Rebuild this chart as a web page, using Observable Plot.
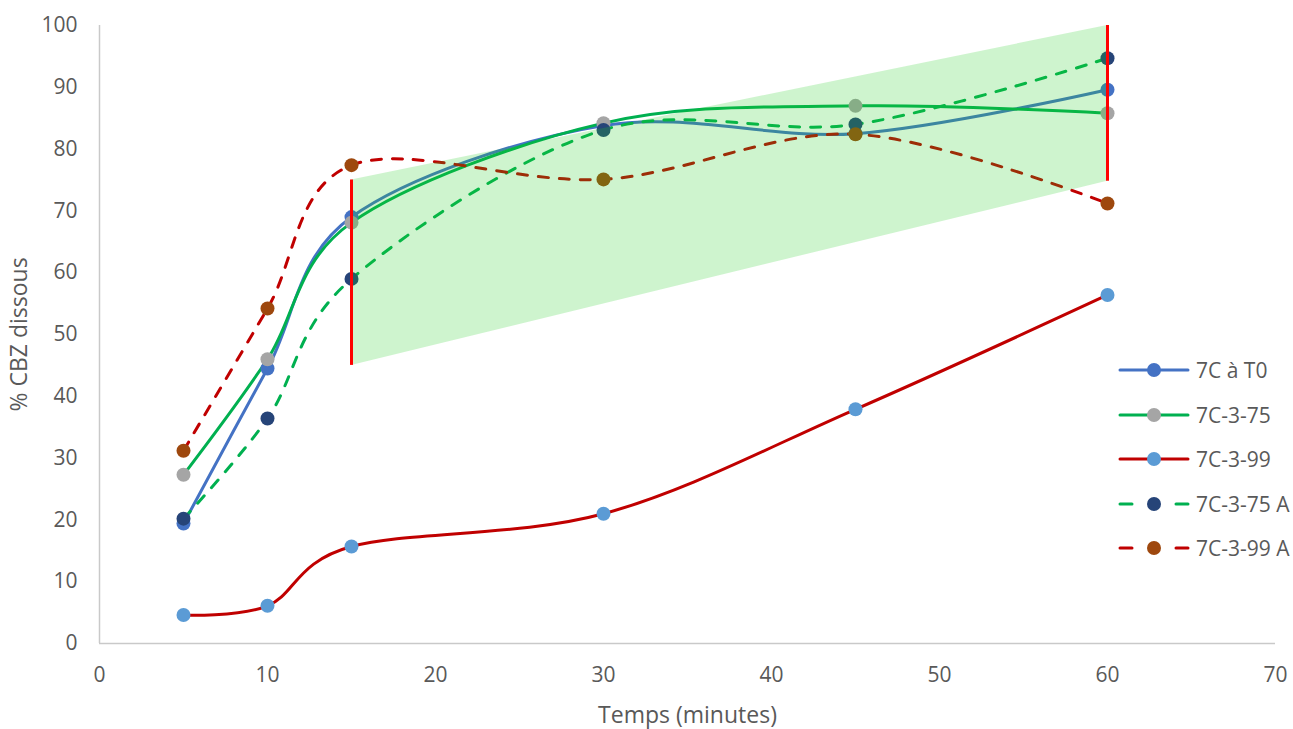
<!DOCTYPE html>
<html>
<head>
<meta charset="utf-8">
<script src="https://cdn.jsdelivr.net/npm/d3@7"></script>
<script src="https://cdn.jsdelivr.net/npm/@observablehq/plot@0.6"></script>
<style>
  html, body { margin: 0; padding: 0; background: #fff; }
  #wrap { position: relative; width: 1293px; height: 729px; font-family: "Open Sans", sans-serif; }
  #legend { position: absolute; left: 1118px; top: 348px; color: #595959; font-size: 21px; }
  .row { display: flex; align-items: center; height: 44.5px; }
  .row svg { margin-right: 6px; }
  g[aria-label="x-axis label"] text, g[aria-label="y-axis label"] text { font-size: 23px; }
</style>
</head>
<body>
<div id="wrap"><div id="legend"></div></div>
<script>
const times = [5, 10, 15, 30, 45, 60];
const seriesNames = ["7C à T0", "7C-3-75", "7C-3-99", "7C-3-75 A", "7C-3-99 A"];
const s7C_T0   = [19.4, 44.5, 69.0, 83.8, 82.5, 89.6];
const s7C_3_75 = [27.3, 46.0, 68.1, 84.2, 87.0, 85.8];
const s7C_3_99 = [4.6, 6.1, 15.7, 21.0, 37.9, 56.4];
const s7C_3_75A = [20.2, 36.4, 59.0, 83.1, 84.0, 94.7];
const s7C_3_99A = [31.2, 54.2, 77.4, 75.1, 82.4, 71.2];
const lineColors = ["#4472C4", "#00B050", "#C00000", "#00B050", "#C00000"];
const markerColors = ["#4472C4", "#A5A5A5", "#5B9BD5", "#264478", "#9E480E"];
const dashed = [false, false, false, true, true];
// green band (acceptance zone) and red bounds
const bandX = [15, 60];
const bandLow = [45, 74.8];
const bandHigh = [75, 100];
const xTicks = [0, 10, 20, 30, 40, 50, 60, 70];
const yTicks = [0, 10, 20, 30, 40, 50, 60, 70, 80, 90, 100];

const allSeries = [s7C_T0, s7C_3_75, s7C_3_99, s7C_3_75A, s7C_3_99A];
const tables = allSeries.map((vals, i) => times.map((t, j) => ({ t, v: vals[j], s: seriesNames[i] })));
const band = bandX.map((x, i) => ({ x, lo: bandLow[i], hi: bandHigh[i] }));

const seriesMarks = [];
tables.forEach((tbl, i) => {
  seriesMarks.push(Plot.line(tbl, {
    x: "t", y: "v", curve: "cardinal", stroke: lineColors[i], strokeWidth: 3,
    strokeDasharray: dashed[i] ? "10,11" : null, strokeLinecap: "round"
  }));
});
tables.forEach((tbl, i) => {
  seriesMarks.push(Plot.dot(tbl, { x: "t", y: "v", r: 7, fill: markerColors[i], stroke: "none" }));
});

const chart = Plot.plot({
  width: 1293, height: 729,
  marginLeft: 99, marginRight: 18, marginTop: 25, marginBottom: 86,
  x: { domain: [0, 70] },
  y: { domain: [0, 100] },
  style: { fontFamily: "Open Sans, sans-serif", fontSize: "21px", color: "#595959", background: "white" },
  marks: [
    Plot.axisX({ ticks: xTicks, tickSize: 0, tickPadding: 24, label: "Temps (minutes)", labelAnchor: "center", labelArrow: "none", labelOffset: 79, fill: "#595959" }),
    Plot.axisY({ ticks: yTicks, tickSize: 0, tickPadding: 22, label: "% CBZ dissous", labelAnchor: "center", labelArrow: "none", labelOffset: 89, fill: "#595959" }),
    Plot.ruleY([0], { stroke: "#c9c9c9", strokeWidth: 1.5 }),
    Plot.ruleX([0], { stroke: "#c9c9c9", strokeWidth: 1.5 }),
    ...seriesMarks,
    Plot.areaY(band, { x: "x", y1: "lo", y2: "hi", fill: "#22cc22", fillOpacity: 0.22 }),
    Plot.ruleX(band, { x: "x", y1: "lo", y2: "hi", stroke: "#FF0000", strokeWidth: 3 })
  ]
});
document.getElementById("wrap").prepend(chart);

// legend
const legend = document.getElementById("legend");
seriesNames.forEach((name, i) => {
  const row = document.createElement("div");
  row.className = "row";
  const svg = d3.create("svg").attr("width", 72).attr("height", 20);
  if (dashed[i]) {
    svg.append("line").attr("x1", 2).attr("x2", 14).attr("y1", 10).attr("y2", 10)
      .attr("stroke", lineColors[i]).attr("stroke-width", 3).attr("stroke-linecap", "round");
    svg.append("line").attr("x1", 58).attr("x2", 70).attr("y1", 10).attr("y2", 10)
      .attr("stroke", lineColors[i]).attr("stroke-width", 3).attr("stroke-linecap", "round");
  } else {
    svg.append("line").attr("x1", 2).attr("x2", 70).attr("y1", 10).attr("y2", 10)
      .attr("stroke", lineColors[i]).attr("stroke-width", 3).attr("stroke-linecap", "round");
  }
  svg.append("circle").attr("cx", 36).attr("cy", 10).attr("r", 7).attr("fill", markerColors[i]);
  row.appendChild(svg.node());
  const span = document.createElement("span");
  span.textContent = name;
  row.appendChild(span);
  legend.appendChild(row);
});
</script>
</body>
</html>
